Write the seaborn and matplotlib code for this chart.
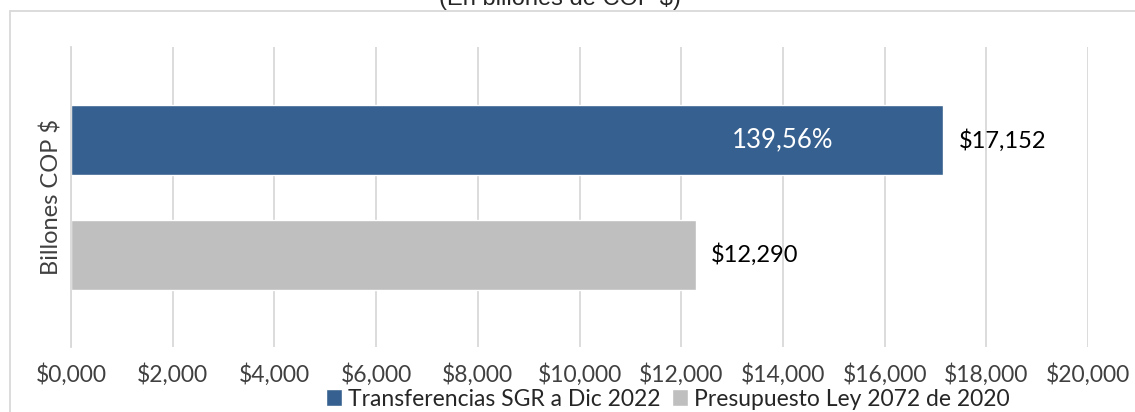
import matplotlib
matplotlib.use("Agg")
import matplotlib.pyplot as plt
from matplotlib.lines import Line2D
import seaborn as sns
import pandas as pd

# Data
series = ["Transferencias SGR a Dic 2022", "Presupuesto Ley 2072 de 2020"]
values = [17152, 12290]
value_labels = ["$17,152", "$12,290"]
pct_label = "139,56%"
colors = ["#36608F", "#BFBFBF"]
x_ticks = [0, 2000, 4000, 6000, 8000, 10000, 12000, 14000, 16000, 18000, 20000]
x_tick_labels = ["$0,000", "$2,000", "$4,000", "$6,000", "$8,000", "$10,000",
                 "$12,000", "$14,000", "$16,000", "$18,000", "$20,000"]

df = pd.DataFrame({"serie": series, "valor": values})

sns.set_style("white")
plt.rcParams["font.family"] = ["Lato", "DejaVu Sans"]

fig = plt.figure(figsize=(11.35, 4.12), dpi=100)
ax = fig.add_axes([71 / 1135, 65 / 412, (1088 - 71) / 1135, 300 / 412])

sns.barplot(data=df, y="serie", x="valor", hue="serie", palette=colors,
            orient="h", width=0.609, legend=False, ax=ax, saturation=1)

ax.set_xlim(0, 20000)
ax.set_ylim(1.8, -0.809)
ax.set_xticks(x_ticks)
ax.set_xticklabels(x_tick_labels, fontsize=16.5, color="#404040")
ax.set_yticks([])
ax.tick_params(axis="x", length=0, pad=12)
ax.grid(axis="x", color="#D9D9D9", linewidth=1.3)
ax.set_axisbelow(True)
for s in ["top", "right", "bottom"]:
    ax.spines[s].set_visible(False)
ax.spines["left"].set_color("#D9D9D9")
ax.spines["left"].set_linewidth(1.3)
ax.set_xlabel("")
ax.set_ylabel("Billones COP $", fontsize=17, color="#404040", labelpad=6)

# value labels
for i, (v, lab) in enumerate(zip(values, value_labels)):
    ax.text(v + 300, i, lab, va="center", ha="left", fontsize=17, color="black")
ax.text(14000, 0, pct_label, va="center", ha="center", fontsize=18.5, color="white")

# title (cut at top, as in the reference)
fig.text(560 / 1135, 1 - 5 / 412, "(En billones de COP $)", ha="center",
         va="baseline", fontsize=17, family="Liberation Sans")

# legend
handles = [ax.patches[0], ax.patches[1]]
fig.legend(handles, series, loc="center", bbox_to_anchor=(668 / 1135, 1 - 399 / 412),
           ncol=2, frameon=False, fontsize=16.5, handlelength=0.7, handleheight=0.7,
           handletextpad=0.25, columnspacing=0.5, borderpad=0)

# chart frame
fig.add_artist(Line2D([10 / 1135, 10 / 1135], [0, 1 - 11 / 412], transform=fig.transFigure,
                      color="#D9D9D9", linewidth=1.3))
fig.add_artist(Line2D([10 / 1135, 1], [1 - 11 / 412, 1 - 11 / 412], transform=fig.transFigure,
                      color="#D9D9D9", linewidth=1.3))

fig.savefig("out.png", dpi=100)
